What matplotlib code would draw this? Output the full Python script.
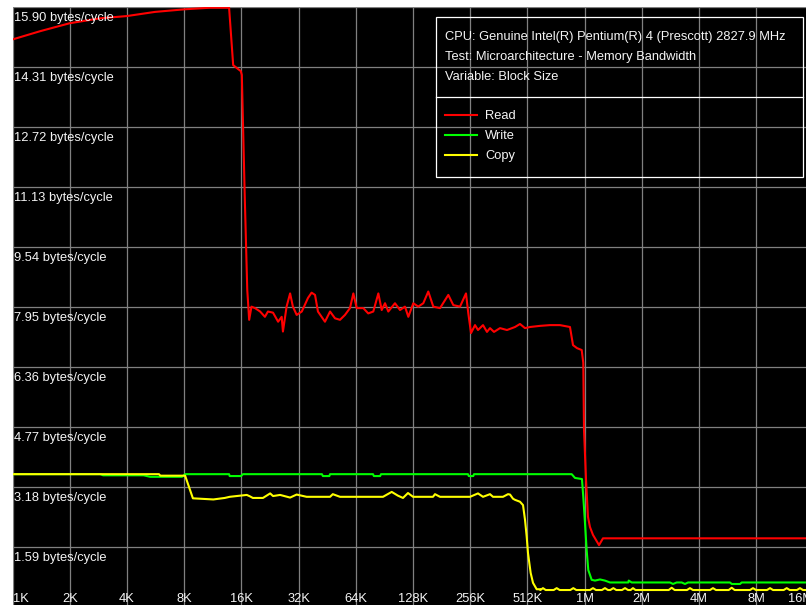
import matplotlib
matplotlib.use('Agg')
import matplotlib.pyplot as plt
import matplotlib.transforms as mtransforms
from matplotlib.lines import Line2D
from matplotlib.patches import Rectangle
from matplotlib.ticker import NullLocator

# ---------------- data ----------------
read_kb = [1.0, 1.40, 2.0, 2.89, 4.0, 5.62, 8.1, 10.9, 13.8, 14.5,
           15.9, 16.1, 16.7, 17.2, 17.6, 18.1, 18.9, 20.1, 21.3, 22.1,
           23.5, 25.0, 26.1, 26.5, 27.7, 28.9, 29.9, 31.3, 33.3, 35.9,
           37.5, 39.1, 40.5, 44.1, 46.9, 49.8, 52.9, 56.2, 59.7, 62.2,
           64.8, 70.2, 74.5, 79.2, 84.2, 87.7, 91.3, 95.0, 103.0, 109.5,
           116.3, 121.1, 128.6, 136.6, 145.2, 154.2, 163.9, 177.8, 196.6, 208.9,
           226.5, 243.6, 250.5, 258.9, 271.7, 281.7, 299.4, 314.1, 325.8, 342.0,
           367.8, 400.3, 441.1, 468.6, 498.0, 529.0, 597.3, 674.2, 760.6, 858.7,
           890.9, 935.1, 989.8, 1009, 1018, 1043, 1068, 1094, 1135, 1221,
           1281, 2048, 4096, 8192, 16384]
read_val = [15.04, 15.26, 15.47, 15.60, 15.66, 15.77, 15.84, 15.88, 15.88, 14.36,
            14.20, 14.10, 10.79, 8.40, 7.61, 7.96, 7.92, 7.83, 7.69, 7.83,
            7.80, 7.56, 7.69, 7.30, 7.96, 8.31, 7.96, 7.74, 7.83, 8.19,
            8.33, 8.27, 7.83, 7.56, 7.83, 7.65, 7.61, 7.74, 7.92, 8.31,
            7.92, 7.92, 7.78, 7.83, 8.31, 7.87, 8.05, 7.83, 8.05, 7.87,
            7.96, 7.69, 8.05, 7.96, 8.05, 8.36, 7.96, 7.92, 8.27, 8.00,
            7.96, 8.31, 7.78, 7.26, 7.47, 7.34, 7.47, 7.29, 7.39, 7.29,
            7.39, 7.34, 7.42, 7.50, 7.39, 7.42, 7.45, 7.47, 7.47, 7.42,
            6.94, 6.86, 6.81, 6.47, 4.69, 3.37, 2.39, 2.12, 1.91, 1.64,
            1.82, 1.82, 1.82, 1.82, 1.82]

write_kb = [1, 2.9, 3.0, 4.9, 5.3, 7.8, 8.1, 13.8, 13.9, 15.95,
            16.3, 42.5, 43.0, 46.5, 46.9, 78.9, 79.8, 86.0, 87.0, 249.5,
            252, 266, 268.4, 876.8, 912.6, 993, 1009, 1030, 1051, 1072,
            1117, 1163, 1236, 1312, 1395, 1741, 1750, 1814, 2886, 2992,
            3130, 3325, 3461, 3590, 5973, 6094, 6746, 6880, 16384]
write_val = [3.52, 3.52, 3.49, 3.49, 3.45, 3.45, 3.52, 3.52, 3.47, 3.47,
             3.52, 3.52, 3.47, 3.47, 3.52, 3.52, 3.47, 3.47, 3.52, 3.52,
             3.47, 3.47, 3.52, 3.52, 3.42, 3.39, 2.92, 2.23, 1.51, 0.98,
             0.72, 0.70, 0.73, 0.70, 0.65, 0.65, 0.70, 0.65, 0.65, 0.61,
             0.65, 0.65, 0.61, 0.65, 0.65, 0.61, 0.61, 0.65, 0.65]

copy_kb = [1, 5.9, 6.0, 8.1, 8.9, 11.4, 13.1, 13.9, 17.1, 17.8,
           18.4, 20.8, 22.7, 23.5, 25.6, 28.9, 31.3, 35.3, 46.9, 48.5,
           52.9, 89.1, 99.0, 106.8, 113.5, 120.6, 128.2, 163.3, 167.3, 177.8,
           255.7, 281.7, 299.4, 325.8, 337.8, 381.3, 405.3, 415.3, 430.5, 441.1,
           468.6, 486.1, 498.0, 508.3, 516.3, 533.4, 548.7, 573.7, 597.3,
           600, 619, 640, 705, 731, 758, 862, 894, 927,
           1094, 1135, 1177, 1265, 1312, 1360, 1400, 1452, 1505,
           1613, 1673, 1735, 1790, 1843, 1900, 2840, 2945, 3055,
           3545, 3676, 3812, 4685, 4858, 5038, 5877, 6094, 6320,
           7610, 7891, 8183, 9351, 9697, 10056, 11447, 11870, 12309,
           13440, 13940, 14456, 16384]
copy_val = [3.52, 3.52, 3.48, 3.48, 2.88, 2.85, 2.89, 2.92, 2.97, 2.93,
            2.89, 2.89, 3.01, 2.94, 2.97, 2.90, 2.98, 2.92, 2.92, 2.99,
            2.92, 2.92, 3.05, 2.95, 2.89, 3.02, 2.92, 2.92, 2.99, 2.92,
            2.92, 3.01, 2.92, 2.99, 2.92, 2.92, 2.99, 2.98, 2.87, 2.84,
            2.79, 2.70, 2.31, 1.86, 1.43, 0.90, 0.64, 0.47, 0.47,
            0.45, 0.50, 0.45, 0.45, 0.50, 0.45, 0.45, 0.50, 0.45,
            0.45, 0.50, 0.45, 0.45, 0.50, 0.45, 0.45, 0.50, 0.45,
            0.45, 0.50, 0.45, 0.45, 0.50, 0.45, 0.45, 0.51, 0.45,
            0.45, 0.50, 0.45, 0.45, 0.50, 0.45, 0.45, 0.51, 0.45,
            0.45, 0.50, 0.45, 0.45, 0.50, 0.45, 0.45, 0.50, 0.45,
            0.45, 0.50, 0.45, 0.45]

x_ticks_kb = [1, 2, 4, 8, 16, 32, 64, 128, 256, 512, 1024, 2048, 4096, 8192, 16384]
x_tick_labels = ['1K', '2K', '4K', '8K', '16K', '32K', '64K', '128K', '256K',
                 '512K', '1M', '2M', '4M', '8M', '16M']
y_ticks = [1.59, 3.18, 4.77, 6.36, 7.95, 9.54, 11.13, 12.72, 14.31, 15.90]
y_tick_labels = ['1.59 bytes/cycle', '3.18 bytes/cycle', '4.77 bytes/cycle',
                 '6.36 bytes/cycle', '7.95 bytes/cycle', '9.54 bytes/cycle',
                 '11.13 bytes/cycle', '12.72 bytes/cycle', '14.31 bytes/cycle',
                 '15.90 bytes/cycle']

series_names = ['Read', 'Write', 'Copy']
series_colors = ['#ff0000', '#00ff00', '#ffff00']
info_lines = ['CPU: Genuine Intel(R) Pentium(R) 4 (Prescott) 2827.9 MHz',
              'Test: Microarchitecture - Memory Bandwidth',
              'Variable: Block Size']

# ---------------- figure ----------------
W, H = 806, 605
FONT = 'Liberation Sans'
FS = 9.3
TXT = '#f4f4f4'

fig = plt.figure(figsize=(W / 100, H / 100), dpi=100, facecolor='white')
ax = fig.add_axes([12.5 / W, (H - 607) / H, 800.8 / W, 600 / H])
ax.set_facecolor('black')
ax.set_xscale('log', base=2)
ax.set_xlim(1, 16384)
ax.set_ylim(0, 15.90)
ax.set_xticks(x_ticks_kb)
ax.xaxis.set_minor_locator(NullLocator())
ax.set_yticks([0] + y_ticks)
ax.tick_params(length=0, labelbottom=False, labelleft=False)
ax.grid(True, color='#808080', lw=0.9)
ax.set_axisbelow(True)
for s in ax.spines.values():
    s.set_visible(False)

ax.plot(write_kb, write_val, color=series_colors[1], lw=1.5, zorder=3)
ax.plot(copy_kb, copy_val, color=series_colors[2], lw=1.5, zorder=4)
ax.plot(read_kb, read_val, color=series_colors[0], lw=1.5, zorder=5)

# y tick labels inside the plot, below each grid line
ytrans = mtransforms.blended_transform_factory(ax.transAxes, ax.transData)
ytrans = ytrans + mtransforms.ScaledTranslation(1.0 / 100, -11 / 100, fig.dpi_scale_trans)
for v, lab in zip(y_ticks, y_tick_labels):
    ax.text(0, v, lab, transform=ytrans, ha='left', va='center',
            color=TXT, fontsize=FS, family=FONT, zorder=6)

# x tick labels at the bottom
xtrans = mtransforms.blended_transform_factory(ax.transData, ax.transAxes)
xtrans = xtrans + mtransforms.ScaledTranslation(0, 8 / 100, fig.dpi_scale_trans)
n = len(x_ticks_kb)
for i, (k, lab) in enumerate(zip(x_ticks_kb, x_tick_labels)):
    ha = 'left' if i == 0 else ('right' if i == n - 1 else 'center')
    dx = 1.0 if i == 0 else 0
    t = xtrans + mtransforms.ScaledTranslation(dx / 100, 0, fig.dpi_scale_trans)
    ax.text(k, 0, lab, transform=t, ha=ha, va='center',
            color=TXT, fontsize=FS, family=FONT, zorder=6)

# legend / info box (figure pixel coordinates)
def fx(x):
    return x / W

def fy(y):
    return 1 - y / H

box = Rectangle((fx(436), fy(177)), (803 - 436) / W, (177 - 17) / H,
                transform=fig.transFigure, fill=False, edgecolor='white', lw=0.9)
fig.add_artist(box)
fig.add_artist(Line2D([fx(436), fx(803)], [fy(97), fy(97)], transform=fig.transFigure,
                      color='white', lw=0.9))
for i, s in enumerate(info_lines):
    fig.text(fx(445), fy(37 + 20 * i), s, ha='left', va='center',
             color=TXT, fontsize=FS, family=FONT)
for i, (name, c) in enumerate(zip(series_names, series_colors)):
    yy = fy(115 + 20 * i)
    fig.add_artist(Line2D([fx(445), fx(477)], [yy, yy], transform=fig.transFigure,
                          color=c, lw=1.5))
    fig.text(fx(485), fy(116 + 20 * i), name, ha='left', va='center',
             color=TXT, fontsize=FS, family=FONT)

fig.savefig('out.png', dpi=100, facecolor='white')
